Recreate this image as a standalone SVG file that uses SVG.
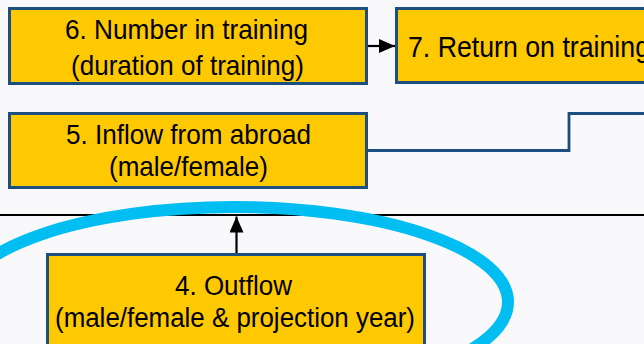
<svg xmlns="http://www.w3.org/2000/svg" width="644" height="344" viewBox="0 0 644 344">
<style>
.box{fill:#FFC900;stroke:#1C4E80;stroke-width:3}
.t{font-family:"Liberation Sans",Arial,sans-serif;fill:#000;text-anchor:middle}
.l{text-anchor:start}
.blk{stroke:#000;stroke-width:2.2;fill:none}
</style>
<defs>
<marker id="ah" viewBox="0 0 16 14" refX="16" refY="7" markerWidth="16" markerHeight="14" markerUnits="userSpaceOnUse" orient="auto">
<path d="M0,0 L16,7 L0,14 Z" fill="#000"/>
</marker>
</defs>
<rect width="644" height="344" fill="#F9F9FC"/>
<g id="connectors">
<line class="blk" x1="0" y1="215" x2="644" y2="215"/>
<line class="blk" x1="368" y1="46" x2="395" y2="46" marker-end="url(#ah)"/>
<line class="blk" x1="236.5" y1="253" x2="236.5" y2="216.5" marker-end="url(#ah)"/>
<path d="M368,150.5 H569 V113.5 H644" fill="none" stroke="#1C4E80" stroke-width="2.8"/>
</g>
<g id="node6">
<rect class="box" x="9.5" y="8.5" width="357" height="75"/>
<text class="t" font-size="28" x="186.5" y="39" textLength="243" lengthAdjust="spacingAndGlyphs">6. Number in training</text>
<text class="t" font-size="28" x="187.5" y="75" textLength="233" lengthAdjust="spacingAndGlyphs">(duration of training)</text>
</g>
<g id="node7">
<rect class="box" x="396.5" y="8.5" width="300" height="74"/>
<text class="t l" font-size="30" x="408" y="57" textLength="242" lengthAdjust="spacingAndGlyphs">7. Return on training</text>
</g>
<g id="node5">
<rect class="box" x="9.5" y="113.5" width="357" height="74"/>
<text class="t" font-size="28" x="188.5" y="144" textLength="245" lengthAdjust="spacingAndGlyphs">5. Inflow from abroad</text>
<text class="t" font-size="28" x="188.5" y="176" textLength="159" lengthAdjust="spacingAndGlyphs">(male/female)</text>
</g>
<g id="node4">
<rect class="box" x="47.5" y="254.5" width="377" height="120"/>
<text class="t" font-size="27" x="233.5" y="295" textLength="117" lengthAdjust="spacingAndGlyphs">4. Outflow</text>
<text class="t" font-size="27" x="235" y="327" textLength="360" lengthAdjust="spacingAndGlyphs">(male/female &amp; projection year)</text>
</g>
<g id="highlight">
<ellipse cx="234" cy="302" rx="274" ry="95" fill="none" stroke="#00BDF2" stroke-width="12"/>
</g>
</svg>
